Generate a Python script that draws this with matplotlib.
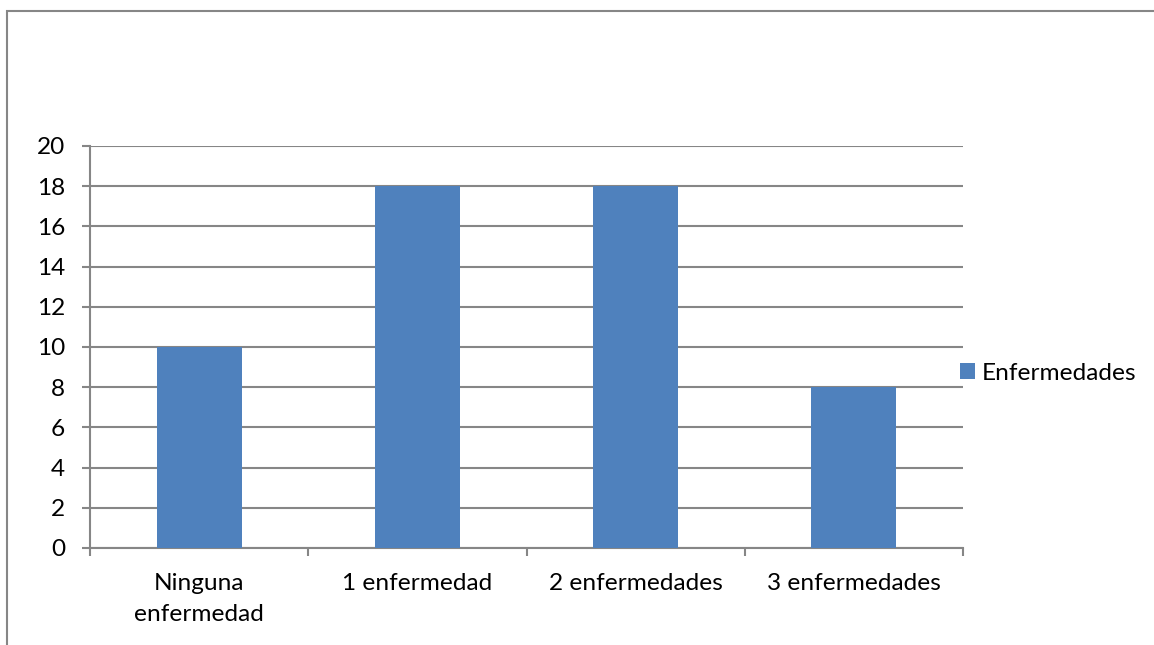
import matplotlib
matplotlib.use("Agg")
import matplotlib.pyplot as plt
from matplotlib.patches import Rectangle

categories = ["Ninguna\nenfermedad", "1 enfermedad", "2 enfermedades", "3 enfermedades"]
values = [10, 18, 18, 8]
series_name = "Enfermedades"
yticks = [0, 2, 4, 6, 8, 10, 12, 14, 16, 18, 20]

plt.rcParams['font.family'] = ['Lato', 'DejaVu Sans']
W, H = 1154, 645
fig = plt.figure(figsize=(W / 100, H / 100), dpi=100)
fig.patch.set_facecolor('white')

grey = '#868686'
px = 72 / 100  # points per pixel
fs = 17.6

# outer chart border
fig.add_artist(Rectangle((7 / W, -0.05), 1.2, (H - 11) / H + 0.05,
                         transform=fig.transFigure, fill=False,
                         edgecolor=grey, linewidth=1.5))

ax = fig.add_axes([90 / W, (H - 548) / H, (963 - 90) / W, (548 - 146) / H])
x = list(range(len(categories)))
ax.bar(x, values, width=0.39, color='#4F81BD', label=series_name, zorder=3)

ax.set_xlim(-0.5, len(categories) - 0.5)
ax.set_ylim(0, 20)
ax.set_yticks(yticks)
ax.set_yticklabels([str(v) for v in yticks], fontsize=fs)
ax.set_xticks(x)
ax.set_xticklabels(categories, fontsize=fs, linespacing=1.6)
ax.set_xticks([i - 0.5 for i in range(len(categories) + 1)], minor=True)
ax.tick_params(axis='x', which='major', length=0, pad=25 * px)
ax.tick_params(axis='x', which='minor', length=8 * px, color=grey, width=1.5)
ax.tick_params(axis='y', length=8 * px, color=grey, width=1.5, pad=17 * px)

ax.yaxis.grid(True, color=grey, linewidth=1.5, zorder=0)
ax.set_axisbelow(True)
for s in ['top', 'right']:
    ax.spines[s].set_visible(False)
for s in ['left', 'bottom']:
    ax.spines[s].set_color(grey)
    ax.spines[s].set_linewidth(1.5)

fig.legend(loc='center left', bbox_to_anchor=(960 / W, 1 - 373 / H),
           frameon=False, fontsize=fs, handlelength=0.6, handleheight=0.6,
           handletextpad=0.3, borderaxespad=0, borderpad=0)

fig.savefig('out.png', dpi=100)
